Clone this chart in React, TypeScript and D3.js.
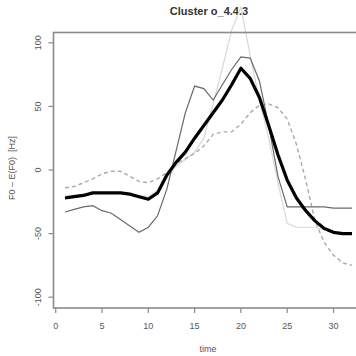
import React from 'react';
import * as d3 from 'd3';

// time steps 1..32
const times = d3.range(1, 33);

// cluster mean (thick black)
const meanCurve = [-22, -21, -20, -18, -18, -18, -18, -19, -21, -23, -18, -4, 6, 14, 25, 35, 45, 55, 67, 80,
  72, 57, 35, 12, -8, -22, -32, -40, -46, -49, -50, -50];
// member curves
const darkCurve = [-33, -31, -29, -28, -32, -34, -39, -44, -49, -45, -36, -15, 15, 45, 66, 64, 55, 67, 79, 89,
  88, 70, 35, -5, -29, -29, -29, -29, -29, -30, -30, -30];
const lightCurve = [-20, -20, -19, -18, -18, -18, -18, -19, -20, -21, -16, -6, 3, 8, 14, 25, 52, 80, 110, 128,
  90, 55, 25, -10, -42, -45, -45, -45, -47, -49, -50, -50];
const dashedCurve = [-14, -13, -10, -7, -3, -1, -1, -5, -9, -10, -7, -2, 5, 9, 13, 19, 28, 30, 30, 36,
  45, 51, 52, 49, 40, 20, -8, -40, -57, -67, -73, -75];

const xTicks = [0, 5, 10, 15, 20, 25, 30];
const yTicks = [-100, -50, 0, 50, 100];

const W = 356;
const H = 356;

export default function App() {
  const x = d3.scaleLinear().domain([-0.24, 33.24]).range([53.5, 363.5]);
  const y = d3.scaleLinear().domain([-108.5, 108.1]).range([308, 32.5]);

  const line = (vals: number[]) =>
    d3.line<number>()
      .x((_, i) => x(times[i]))
      .y(d => y(d))(vals) || '';

  const [x0, x1] = x.range();
  const [yb, yt] = y.range();
  const font = 'Liberation Sans, Arial, sans-serif';
  const axisCol = '#8a8a8a';
  const textCol = '#555';

  return (
    <svg width={W} height={H} style={{ position: 'absolute', left: 0, top: 0, background: '#fff' }}>
      <rect x={0} y={0} width={W} height={H} fill="#fff" />
      {/* title */}
      <text x={209} y={15} textAnchor="middle" fontFamily={font} fontWeight="bold" fontSize={11} fill="#333">
        Cluster o_4.4.3
      </text>

      {/* curves */}
      <path d={line(lightCurve)} fill="none" stroke="#d8d8d8" strokeWidth={1.2} />
      <path d={line(dashedCurve)} fill="none" stroke="#aaaaaa" strokeWidth={1.4} strokeDasharray="4,3" />
      <path d={line(darkCurve)} fill="none" stroke="#6a6a6a" strokeWidth={1.2} />
      <path d={line(meanCurve)} fill="none" stroke="#000" strokeWidth={3.2} strokeLinejoin="round" />

      {/* box */}
      <rect x={x0} y={yt} width={x1 - x0} height={yb - yt} fill="none" stroke={axisCol} strokeWidth={1.6} />

      {/* x axis */}
      {xTicks.map(t => (
        <g key={'x' + t}>
          <line x1={x(t)} x2={x(t)} y1={yb} y2={yb + 5} stroke={axisCol} strokeWidth={1.2} />
          <text x={x(t)} y={329} textAnchor="middle" fontFamily={font} fontSize={9} fill={textCol}>{t}</text>
        </g>
      ))}
      <text x={208} y={352} textAnchor="middle" fontFamily={font} fontSize={9} fill={textCol}>time</text>

      {/* y axis */}
      {yTicks.map(t => (
        <g key={'y' + t}>
          <line x1={x0 - 5} x2={x0} y1={y(t)} y2={y(t)} stroke={axisCol} strokeWidth={1.2} />
          <text transform={`translate(41,${y(t)}) rotate(-90)`} textAnchor="middle" fontFamily={font}
            fontSize={9} fill={textCol}>{t}</text>
        </g>
      ))}
      <text transform={`translate(15,168) rotate(-90)`} textAnchor="middle" fontFamily={font} fontSize={9}
        fill={textCol}>{'F0 \u2013 E(F0)\u00a0\u00a0[Hz]'}</text>
    </svg>
  );
}
